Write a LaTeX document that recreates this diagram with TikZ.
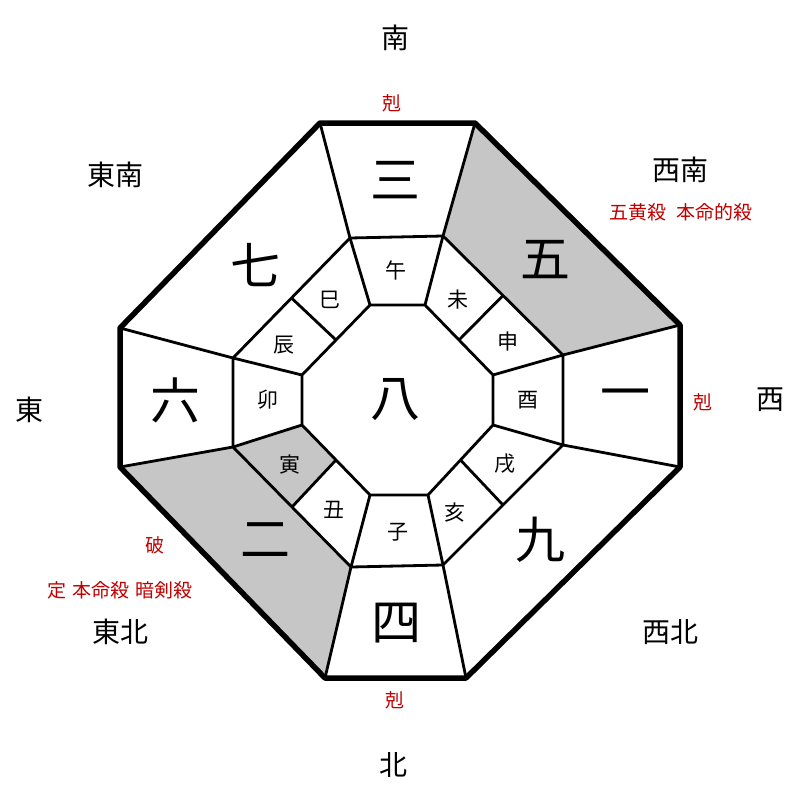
\documentclass[tikz,border=0pt]{standalone}
\usepackage{fontspec}
\usetikzlibrary{calc}
\newfontfamily\cjk{Noto Sans CJK JP}
\begin{document}
\begin{tikzpicture}[x=1pt,y=-1pt,
  ln/.style={line width=2.8pt,line join=round},
  big/.style={font=\cjk\fontsize{50}{54}\selectfont},
  zod/.style={font=\cjk\fontsize{21}{24}\selectfont},
  dir/.style={font=\cjk\fontsize{28}{32}\selectfont},
  red/.style={font=\cjk\fontsize{19}{22}\selectfont,text=red!75!black}]
\useasboundingbox (0,0) rectangle (800,800);
% outer octagon
\coordinate (O1) at (320,123); \coordinate (O2) at (475,123);
\coordinate (O3) at (680,325); \coordinate (O4) at (680,467);
\coordinate (O5) at (466,678); \coordinate (O6) at (325,678);
\coordinate (O7) at (120,467); \coordinate (O8) at (120,328);
% middle octagon
\coordinate (M1) at (350,238); \coordinate (M2) at (443,236);
\coordinate (M3) at (563,355); \coordinate (M4) at (563,445);
\coordinate (M5) at (443,565); \coordinate (M6) at (351,567);
\coordinate (M7) at (233,447); \coordinate (M8) at (233,358);
% inner octagon
\coordinate (I1) at (370,305); \coordinate (I2) at (425,305);
\coordinate (I3) at (493,375); \coordinate (I4) at (493,425);
\coordinate (I5) at (428,495); \coordinate (I6) at (370,495);
\coordinate (I7) at (302,425); \coordinate (I8) at (302,375);
% shading
\fill[gray!45] (M2)--(O2)--(O3)--(M3)--cycle;
\fill[gray!45] (M6)--(O6)--(O7)--(M7)--cycle;
\fill[gray!45] (I7)--($(I6)!0.5!(I7)$)--($(M6)!0.5!(M7)$)--(M7)--cycle;
% lines
\draw[line width=5.5pt,line join=round] (O1)--(O2)--(O3)--(O4)--(O5)--(O6)--(O7)--(O8)--cycle;
\draw[ln] (M1)--(M2)--(M3)--(M4)--(M5)--(M6)--(M7)--(M8)--cycle;
\draw[ln] (I1)--(I2)--(I3)--(I4)--(I5)--(I6)--(I7)--(I8)--cycle;
\foreach \k in {1,...,8}{\draw[ln] (M\k)--(O\k); \draw[ln] (I\k)--(M\k);}
\draw[ln] ($(I2)!0.5!(I3)$)--($(M2)!0.5!(M3)$);
\draw[ln] ($(I4)!0.5!(I5)$)--($(M4)!0.5!(M5)$);
\draw[ln] ($(I6)!0.5!(I7)$)--($(M6)!0.5!(M7)$);
\draw[ln] ($(I8)!0.5!(I1)$)--($(M8)!0.5!(M1)$);
% big numbers
\node[big] (n8) at (395,400) {八};
\node[big] (n3) at (395,180) {三};
\node[big] (n5) at (545,260) {五};
\node[big] (n1) at (625,400) {一};
\node[big] (n9) at (540,540) {九};
\node[big] (n4) at (396,623) {四};
\node[big] (n2) at (265,540) {二};
\node[big] (n6) at (175,400) {六};
\node[big] (n7) at (255,265) {七};
% zodiac
\node[zod] (z1) at (396,270) {午};
\node[zod] (z2) at (458,300) {未};
\node[zod] (z3) at (508,342) {申};
\node[zod] (z4) at (528,400) {酉};
\node[zod] (z5) at (505,464) {戌};
\node[zod] (z6) at (455,513) {亥};
\node[zod] (z7) at (398,532) {子};
\node[zod] (z8) at (334,510) {丑};
\node[zod] (z9) at (290,465) {寅};
\node[zod] (z10) at (268,400) {卯};
\node[zod] (z11) at (284,345) {辰};
\node[zod] (z12) at (330,300) {巳};
% directions
\node[dir] (d1) at (395,38) {南};
\node[dir] (d2) at (393,765) {北};
\node[dir] (d3) at (30,410) {東};
\node[dir] (d4) at (770,400) {西};
\node[dir] (d5) at (115,175) {東南};
\node[dir] (d6) at (680,170) {西南};
\node[dir] (d7) at (120,632) {東北};
\node[dir] (d8) at (670,632) {西北};
% red labels
\node[red] (r1) at (392,103) {剋};
\node[red] (r2) at (703,402) {剋};
\node[red] (r3) at (395,700) {剋};
\node[red] (r4) at (155,545) {破};
\node[red] (r5) at (681,212) {五黄殺\hspace{10pt}本命的殺};
\node[red] (r6) at (120,590) {定\hspace{6pt}本命殺\hspace{6pt}暗剣殺};
\end{tikzpicture}
\end{document}
